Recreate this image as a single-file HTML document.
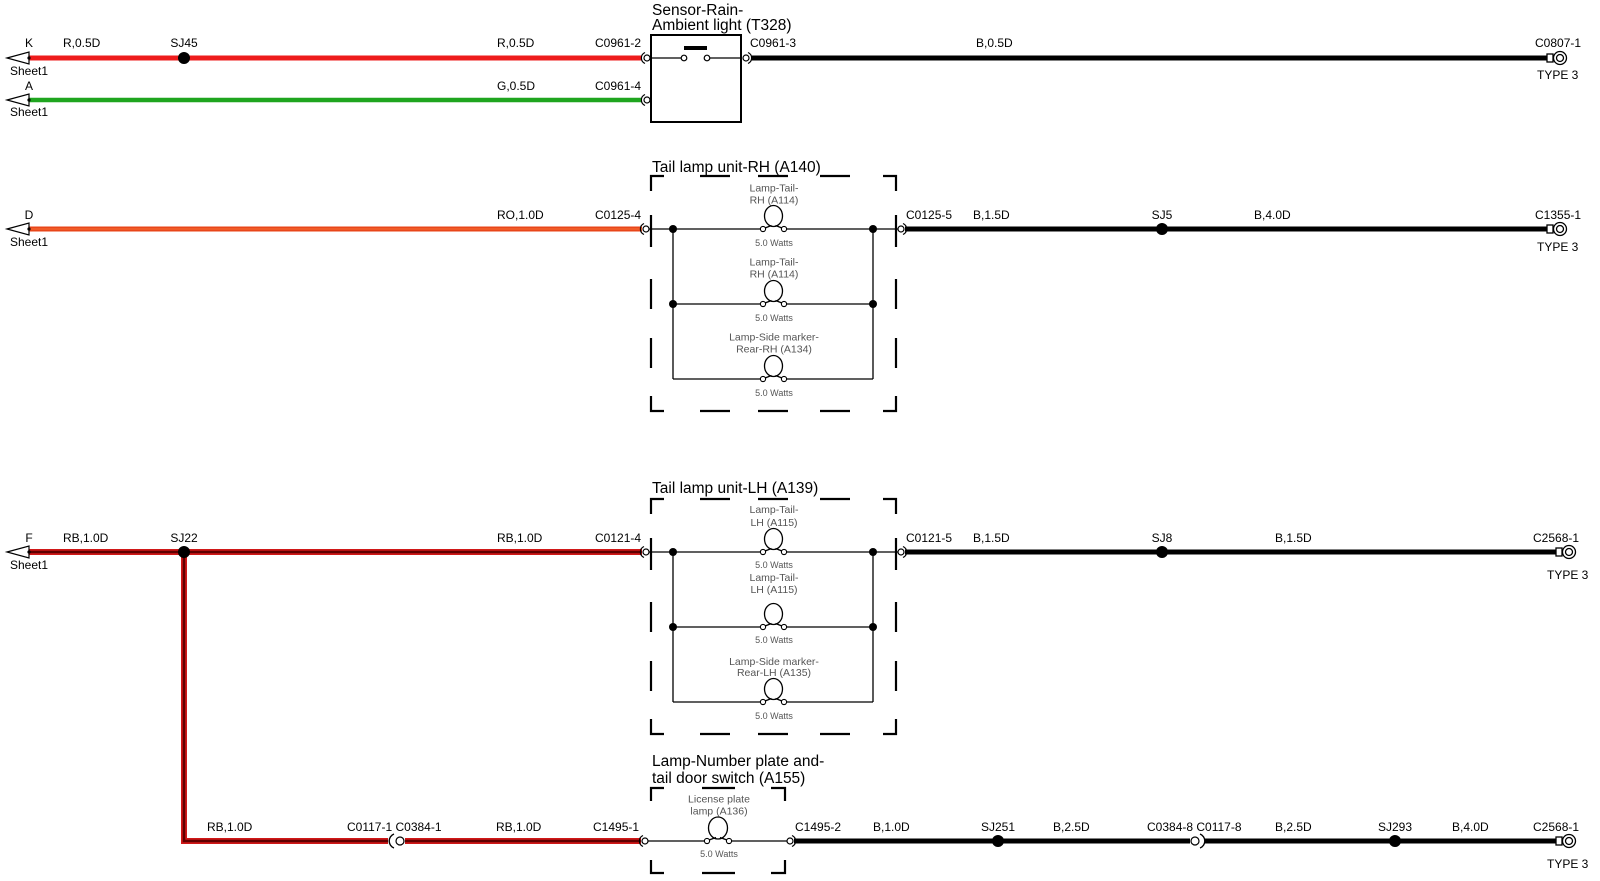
<!DOCTYPE html>
<html><head><meta charset="utf-8"><style>
html,body{margin:0;padding:0;background:#fff;}
svg{display:block;}
text{font-family:"Liberation Sans",Arial,sans-serif;}
.w{font-size:12px;fill:#000;}
.t{font-size:15.5px;fill:#000;}
.l{font-size:10.5px;fill:#555;}
.ws{font-size:9px;fill:#555;}
</style></head><body>
<svg width="1600" height="881" viewBox="0 0 1600 881" xmlns="http://www.w3.org/2000/svg">
<rect width="1600" height="881" fill="#fff"/>

<!-- ===== WIRES ===== -->
<line x1="29" y1="58" x2="642" y2="58" stroke="#ee1c1c" stroke-width="5"/>
<line x1="751" y1="58" x2="1547" y2="58" stroke="#000" stroke-width="5"/>
<line x1="29" y1="100" x2="642" y2="100" stroke="#1fa51f" stroke-width="4.5"/>
<line x1="29" y1="229" x2="642" y2="229" stroke="#e8461a" stroke-width="5"/>
<line x1="29" y1="229" x2="642" y2="229" stroke="#f2622c" stroke-width="1.5"/>
<line x1="905" y1="229" x2="1547" y2="229" stroke="#000" stroke-width="5"/>
<polyline points="29,552 642,552" fill="none" stroke="#d01818" stroke-width="6"/>
<polyline points="184,552 184,841 388,841" fill="none" stroke="#d01818" stroke-width="6"/>
<line x1="405" y1="841" x2="641" y2="841" stroke="#d01818" stroke-width="6"/>
<polyline points="29,552 642,552" fill="none" stroke="#600000" stroke-width="2.5"/>
<polyline points="184,552 184,841 388,841" fill="none" stroke="#600000" stroke-width="2.5"/>
<line x1="405" y1="841" x2="641" y2="841" stroke="#600000" stroke-width="2.5"/>
<line x1="905" y1="552" x2="1556" y2="552" stroke="#000" stroke-width="5"/>
<line x1="794" y1="841" x2="1190" y2="841" stroke="#000" stroke-width="5"/>
<line x1="1205" y1="841" x2="1556" y2="841" stroke="#000" stroke-width="5"/>

<!-- ===== SHEET ARROWS ===== -->
<g fill="#fff" stroke="#000" stroke-width="1.2">
<polygon points="7,58 29,52 29,64"/>
<polygon points="7,100 29,94 29,106"/>
<polygon points="7,229 29,223 29,235"/>
<polygon points="7,552 29,546 29,558"/>
</g>
<g fill="#000">
<circle cx="29" cy="58" r="1.6"/><circle cx="29" cy="100" r="1.6"/>
<circle cx="29" cy="229" r="1.6"/><circle cx="29" cy="552" r="1.6"/>
</g>

<!-- ===== SPLICE DOTS ===== -->
<g fill="#000">
<circle cx="184" cy="58" r="6"/>
<circle cx="1162" cy="229" r="6"/>
<circle cx="184" cy="552" r="6"/>
<circle cx="1162" cy="552" r="6"/>
<circle cx="998" cy="841" r="6"/>
<circle cx="1395" cy="841" r="6"/>
</g>

<!-- ===== CONNECTORS ===== -->
<g fill="#fff" stroke="#000" stroke-width="1.2">
<path d="M645,52.5 A6,6 0 0 0 645,63.5" fill="none"/><circle cx="647" cy="58" r="3"/>
<path d="M645,94.5 A6,6 0 0 0 645,105.5" fill="none"/><circle cx="647" cy="100" r="3"/>
<path d="M644,223.5 A6,6 0 0 0 644,234.5" fill="none"/><circle cx="646" cy="229" r="3"/>
<path d="M644,546.5 A6,6 0 0 0 644,557.5" fill="none"/><circle cx="646" cy="552" r="3"/>
<path d="M643,835.5 A6,6 0 0 0 643,846.5" fill="none"/><circle cx="645" cy="841" r="3"/>
<path d="M394,834 A7.5,7.5 0 0 0 394,848" fill="none" stroke-width="1.4"/><circle cx="400" cy="841" r="4"/>
<circle cx="746" cy="58" r="3"/><path d="M748,52.5 A6,6 0 0 1 748,63.5" fill="none"/>
<circle cx="901" cy="229" r="3"/><path d="M903,223.5 A6,6 0 0 1 903,234.5" fill="none"/>
<circle cx="901" cy="552" r="3"/><path d="M903,546.5 A6,6 0 0 1 903,557.5" fill="none"/>
<circle cx="790" cy="841" r="3"/><path d="M792,835.5 A6,6 0 0 1 792,846.5" fill="none"/>
<circle cx="1195" cy="841" r="4"/><path d="M1200,834 A7.5,7.5 0 0 1 1200,848" fill="none" stroke-width="1.4"/>
</g>

<!-- ===== TYPE 3 ring terminals ===== -->
<g fill="#fff" stroke="#000" stroke-width="1.3">
<rect x="1547" y="54" width="6" height="8"/><circle cx="1560" cy="58" r="6.5"/><circle cx="1560" cy="58" r="3.5"/>
<rect x="1547" y="225" width="6" height="8"/><circle cx="1560" cy="229" r="6.5"/><circle cx="1560" cy="229" r="3.5"/>
<rect x="1556" y="548" width="6" height="8"/><circle cx="1569" cy="552" r="6.5"/><circle cx="1569" cy="552" r="3.5"/>
<rect x="1556" y="837" width="6" height="8"/><circle cx="1569" cy="841" r="6.5"/><circle cx="1569" cy="841" r="3.5"/>
</g>

<!-- ===== SENSOR BOX ===== -->
<rect x="651" y="35" width="90" height="87" fill="none" stroke="#000" stroke-width="2"/>
<line x1="651" y1="58" x2="684" y2="58" stroke="#000" stroke-width="1.3"/>
<line x1="707" y1="58" x2="741" y2="58" stroke="#000" stroke-width="1.3"/>
<rect x="684" y="46" width="23" height="4" fill="#000"/>
<circle cx="684" cy="58" r="2.8" fill="#fff" stroke="#000" stroke-width="1.2"/>
<circle cx="707" cy="58" r="2.8" fill="#fff" stroke="#000" stroke-width="1.2"/>

<!-- ===== TAIL LAMP BOXES ===== -->
<g>
<path d="M651,191 V176 H664 M700,176 H730 M758,176 H788 M820,176 H850 M883,176 H896 V191
M651,215 V247 M651,279 V309 M651,338 V368 M651,396 V411 H664
M700,411 H730 M758,411 H788 M820,411 H850 M883,411 H896 V396
M896,215 V247 M896,279 V309 M896,338 V368" fill="none" stroke="#000" stroke-width="2.2"/>
<g stroke="#000" stroke-width="1.3" fill="none">
<path d="M649,229 H763 M784,229 H898"/>
<path d="M673,304 H763 M784,304 H873"/>
<path d="M673,379 H763 M784,379 H873"/>
<path d="M673,229 V379 M873,229 V379"/>
<ellipse cx="773.5" cy="216" rx="9" ry="10.5"/>
<path d="M765,228 L771.5,225.5 M782,228 L775.5,225.5"/>
<ellipse cx="773.5" cy="291" rx="9" ry="10.5"/>
<path d="M765,303 L771.5,300.5 M782,303 L775.5,300.5"/>
<ellipse cx="773.5" cy="366" rx="9" ry="10.5"/>
<path d="M765,378 L771.5,375.5 M782,378 L775.5,375.5"/>
</g>
<g fill="#fff" stroke="#000" stroke-width="1.1">
<circle cx="763" cy="229" r="2.6"/><circle cx="784" cy="229" r="2.6"/>
<circle cx="763" cy="304" r="2.6"/><circle cx="784" cy="304" r="2.6"/>
<circle cx="763" cy="379" r="2.6"/><circle cx="784" cy="379" r="2.6"/>
</g>
<g fill="#000">
<circle cx="673" cy="229" r="4"/><circle cx="873" cy="229" r="4"/>
<circle cx="673" cy="304" r="4"/><circle cx="873" cy="304" r="4"/>
</g>
</g>
<g transform="translate(0,323)">
<path d="M651,191 V176 H664 M700,176 H730 M758,176 H788 M820,176 H850 M883,176 H896 V191
M651,215 V247 M651,279 V309 M651,338 V368 M651,396 V411 H664
M700,411 H730 M758,411 H788 M820,411 H850 M883,411 H896 V396
M896,215 V247 M896,279 V309 M896,338 V368" fill="none" stroke="#000" stroke-width="2.2"/>
<g stroke="#000" stroke-width="1.3" fill="none">
<path d="M649,229 H763 M784,229 H898"/>
<path d="M673,304 H763 M784,304 H873"/>
<path d="M673,379 H763 M784,379 H873"/>
<path d="M673,229 V379 M873,229 V379"/>
<ellipse cx="773.5" cy="216" rx="9" ry="10.5"/>
<path d="M765,228 L771.5,225.5 M782,228 L775.5,225.5"/>
<ellipse cx="773.5" cy="291" rx="9" ry="10.5"/>
<path d="M765,303 L771.5,300.5 M782,303 L775.5,300.5"/>
<ellipse cx="773.5" cy="366" rx="9" ry="10.5"/>
<path d="M765,378 L771.5,375.5 M782,378 L775.5,375.5"/>
</g>
<g fill="#fff" stroke="#000" stroke-width="1.1">
<circle cx="763" cy="229" r="2.6"/><circle cx="784" cy="229" r="2.6"/>
<circle cx="763" cy="304" r="2.6"/><circle cx="784" cy="304" r="2.6"/>
<circle cx="763" cy="379" r="2.6"/><circle cx="784" cy="379" r="2.6"/>
</g>
<g fill="#000">
<circle cx="673" cy="229" r="4"/><circle cx="873" cy="229" r="4"/>
<circle cx="673" cy="304" r="4"/><circle cx="873" cy="304" r="4"/>
</g>
</g>

<!-- ===== NUMBER PLATE BOX ===== -->
<path d="M651,801 V788 H664 M702,788 H735 M771,788 H785 V801
M651,860 V873 H664 M702,873 H735 M771,873 H785 V860" fill="none" stroke="#000" stroke-width="2.2"/>
<g stroke="#000" stroke-width="1.3" fill="none">
<path d="M648,841 H707 M729,841 H787"/>
<ellipse cx="718" cy="828" rx="9.5" ry="11"/>
<path d="M709,840 L716,837.5 M727,840 L720,837.5"/>
</g>
<circle cx="707" cy="841" r="2.6" fill="#fff" stroke="#000" stroke-width="1.1"/>
<circle cx="729" cy="841" r="2.6" fill="#fff" stroke="#000" stroke-width="1.1"/>

<!-- ===== TITLES ===== -->
<text class="t" x="652" y="15">Sensor-Rain-</text>
<text class="t" x="652" y="30">Ambient light (T328)</text>
<text class="t" x="652" y="172">Tail lamp unit-RH (A140)</text>
<text class="t" x="652" y="493">Tail lamp unit-LH (A139)</text>
<text class="t" x="652" y="766">Lamp-Number plate and-</text>
<text class="t" x="652" y="783">tail door switch (A155)</text>

<!-- ===== LAMP LABELS ===== -->
<g text-anchor="middle">
<text class="l" x="774" y="191.5">Lamp-Tail-</text>
<text class="l" x="774" y="203.5">RH (A114)</text>
<text class="ws" x="774" y="246">5.0 Watts</text>
<text class="l" x="774" y="265.5">Lamp-Tail-</text>
<text class="l" x="774" y="277.5">RH (A114)</text>
<text class="ws" x="774" y="321">5.0 Watts</text>
<text class="l" x="774" y="340.5">Lamp-Side marker-</text>
<text class="l" x="774" y="352.5">Rear-RH (A134)</text>
<text class="ws" x="774" y="396">5.0 Watts</text>

<text class="l" x="774" y="513">Lamp-Tail-</text>
<text class="l" x="774" y="526">LH (A115)</text>
<text class="ws" x="774" y="568">5.0 Watts</text>
<text class="l" x="774" y="581">Lamp-Tail-</text>
<text class="l" x="774" y="593">LH (A115)</text>
<text class="ws" x="774" y="643">5.0 Watts</text>
<text class="l" x="774" y="665">Lamp-Side marker-</text>
<text class="l" x="774" y="676">Rear-LH (A135)</text>
<text class="ws" x="774" y="719">5.0 Watts</text>

<text class="l" x="719" y="802.5">License plate</text>
<text class="l" x="719" y="814.5">lamp (A136)</text>
<text class="ws" x="719" y="857">5.0 Watts</text>
</g>

<!-- ===== WIRE LABELS ===== -->
<text class="w" x="29" y="47" text-anchor="middle">K</text>
<text class="w" x="63" y="47">R,0.5D</text>
<text class="w" x="184" y="47" text-anchor="middle">SJ45</text>
<text class="w" x="497" y="47">R,0.5D</text>
<text class="w" x="595" y="47">C0961-2</text>
<text class="w" x="750" y="47">C0961-3</text>
<text class="w" x="976" y="47">B,0.5D</text>
<text class="w" x="1535" y="47">C0807-1</text>
<text class="w" x="10" y="75">Sheet1</text>
<text class="w" x="1537" y="79">TYPE 3</text>

<text class="w" x="29" y="90" text-anchor="middle">A</text>
<text class="w" x="497" y="90">G,0.5D</text>
<text class="w" x="595" y="90">C0961-4</text>
<text class="w" x="10" y="116">Sheet1</text>

<text class="w" x="29" y="219" text-anchor="middle">D</text>
<text class="w" x="497" y="219">RO,1.0D</text>
<text class="w" x="595" y="219">C0125-4</text>
<text class="w" x="906" y="219">C0125-5</text>
<text class="w" x="973" y="219">B,1.5D</text>
<text class="w" x="1162" y="219" text-anchor="middle">SJ5</text>
<text class="w" x="1254" y="219">B,4.0D</text>
<text class="w" x="1535" y="219">C1355-1</text>
<text class="w" x="10" y="246">Sheet1</text>
<text class="w" x="1537" y="251">TYPE 3</text>

<text class="w" x="29" y="542" text-anchor="middle">F</text>
<text class="w" x="63" y="542">RB,1.0D</text>
<text class="w" x="184" y="542" text-anchor="middle">SJ22</text>
<text class="w" x="497" y="542">RB,1.0D</text>
<text class="w" x="595" y="542">C0121-4</text>
<text class="w" x="906" y="542">C0121-5</text>
<text class="w" x="973" y="542">B,1.5D</text>
<text class="w" x="1162" y="542" text-anchor="middle">SJ8</text>
<text class="w" x="1275" y="542">B,1.5D</text>
<text class="w" x="1533" y="542">C2568-1</text>
<text class="w" x="10" y="569">Sheet1</text>
<text class="w" x="1547" y="579">TYPE 3</text>

<text class="w" x="207" y="831">RB,1.0D</text>
<text class="w" x="347" y="831">C0117-1 C0384-1</text>
<text class="w" x="496" y="831">RB,1.0D</text>
<text class="w" x="593" y="831">C1495-1</text>
<text class="w" x="795" y="831">C1495-2</text>
<text class="w" x="873" y="831">B,1.0D</text>
<text class="w" x="998" y="831" text-anchor="middle">SJ251</text>
<text class="w" x="1053" y="831">B,2.5D</text>
<text class="w" x="1147" y="831">C0384-8 C0117-8</text>
<text class="w" x="1275" y="831">B,2.5D</text>
<text class="w" x="1395" y="831" text-anchor="middle">SJ293</text>
<text class="w" x="1452" y="831">B,4.0D</text>
<text class="w" x="1533" y="831">C2568-1</text>
<text class="w" x="1547" y="868">TYPE 3</text>
</svg>
</body></html>
